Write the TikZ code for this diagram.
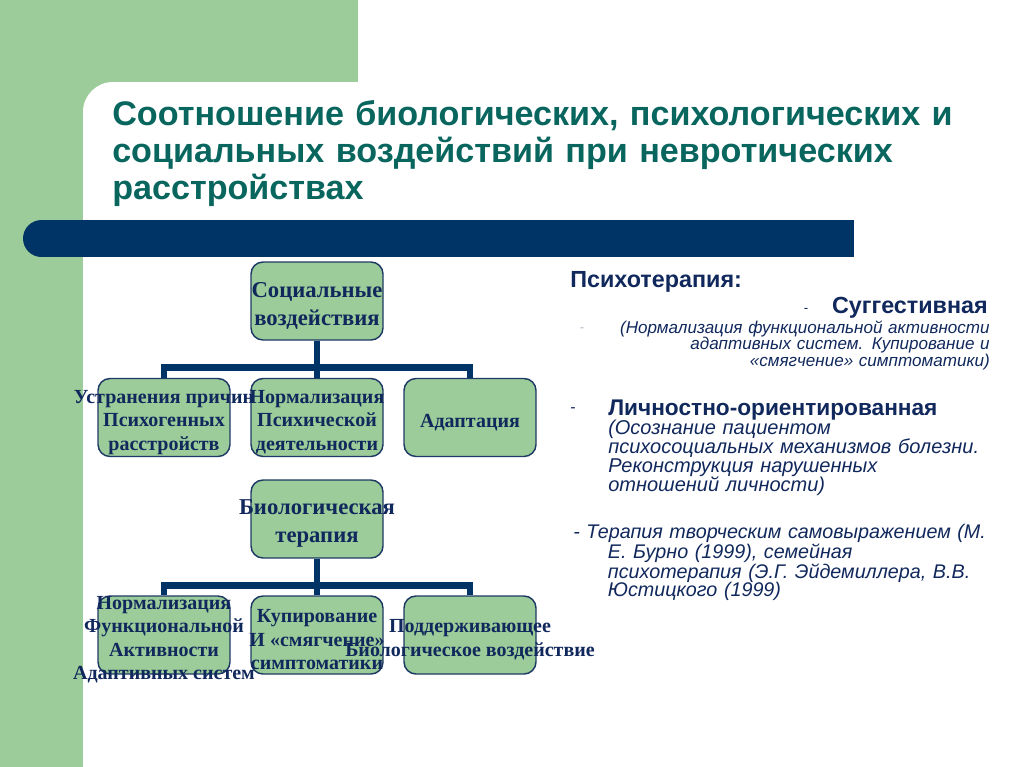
\documentclass[tikz,border=0pt]{standalone}
\usepackage{fontspec}
\setmainfont{Liberation Serif}
\newfontfamily\slidesans{Liberation Sans}
\usetikzlibrary{positioning}

\definecolor{bggreen}{RGB}{156,204,153}
\definecolor{barblue}{RGB}{0,51,102}
\definecolor{titleteal}{RGB}{8,102,94}
\definecolor{inknavy}{RGB}{16,40,92}
\definecolor{boxline}{RGB}{30,58,100}

\begin{document}
\begin{tikzpicture}[x=0.75pt, y=-0.75pt,
			box/.style={draw=boxline, line width=1.1pt, fill=bggreen, rounded corners=9pt, minimum width=99pt, minimum height=58.5pt, inner sep=0pt},
			boxtext/.style={text=inknavy, font=\bfseries\fontsize{15}{17.6}\selectfont, align=center, inner sep=0pt, yshift=-3.5pt},
			headtext/.style={boxtext, font=\bfseries\fontsize{17}{21}\selectfont},
			link/.style={draw=barblue, line width=5pt},
			side/.style={text=inknavy, inner sep=0pt}]
			\useasboundingbox (0,0) rectangle (1024,767);
			% slide background
			\fill[bggreen] (0,0) rectangle (358,82);
			\fill[bggreen] (0,0) rectangle (83,767);
			\fill[bggreen] (83,82) rectangle (113,112);
			\fill[white] (113,112) circle[radius=30];
			\fill[barblue] (41.5,238.5) circle[radius=18.5];
			\fill[barblue] (41.5,220) rectangle (854,257);
			\node[anchor=base west, inner sep=0pt, text width=680pt, align=left, text=titleteal, font=\slidesans\bfseries\fontsize{25.6}{27.75}\selectfont] (title) at (112,125)
				{Соотношение биологических, психологических и\\социальных воздействий при невротических\\расстройствах};

			% social branch
			\node[box] (soc) at (317,301) {};
			\node[box] (ustr) at (164,417.5) {};
			\node[box] (norm) at (317,417.5) {};
			\node[box] (adapt) at (470,417.5) {};
			\draw[link] (soc.south) -- ++(0,27) -| (ustr.north);
			\draw[link] (soc.south) -- (norm.north);
			\draw[link] (soc.south) -- ++(0,27) -| (adapt.north);
			\node[headtext] (soct) at (soc) {Социальные\\воздействия};
			\node[boxtext] (ustrt) at (ustr) {Устранения причин\\Психогенных\\расстройств};
			\node[boxtext] (normt) at (norm) {Нормализация\\Психической\\деятельности};
			\node[boxtext] (adaptt) at (adapt) {Адаптация};

			% biological branch
			\node[box] (bio) at (317,519) {};
			\node[box] (funk) at (164,635) {};
			\node[box] (kup) at (317,635) {};
			\node[box] (podd) at (470,635) {};
			\draw[link] (bio.south) -- ++(0,27) -| (funk.north);
			\draw[link] (bio.south) -- (kup.north);
			\draw[link] (bio.south) -- ++(0,27) -| (podd.north);
			\node[headtext] (biot) at (bio) {Биологическая\\терапия};
			\node[boxtext] (funkt) at (funk) {Нормализация\\Функциональной\\Активности\\Адаптивных систем};
			\node[boxtext] (kupt) at (kup) {Купирование\\И «смягчение»\\симптоматики};
			\node[boxtext] (poddt) at (podd) {Поддерживающее\\Биологическое воздействие};

			% psychotherapy text
			\node[side, anchor=base west, font=\slidesans\bfseries\fontsize{17.5}{21}\selectfont] (psy) at (570,287) {Психотерапия:};
			\node[side, anchor=base east, font=\slidesans\bfseries\fontsize{17.5}{21}\selectfont] (sugg) at (988,313) {Суггестивная};
			\node[side, font=\slidesans\fontsize{10}{12}\selectfont] (sdash) at (806,310) {-};
			\node[side, text=inknavy!40, font=\slidesans\fontsize{9}{11}\selectfont] (gdash) at (582,330) {-};
			\node[side, anchor=base east, text width=320pt, align=right, font=\slidesans\itshape\fontsize{12.8}{12.4}\selectfont] (suggt) at (990,333)
				{(Нормализация функциональной активности\\адаптивных систем. Купирование и\\«смягчение» симптоматики)};
			\node[side, font=\slidesans\fontsize{12}{14}\selectfont] (ldash) at (573,410) {-};
			\node[side, anchor=base west, font=\slidesans\bfseries\fontsize{17}{18}\selectfont] (lich) at (608,415) {Личностно-ориентированная};
			\node[side, anchor=base west, text width=300pt, align=left, font=\slidesans\itshape\fontsize{15}{14.25}\selectfont] (licht) at (608,434)
				{(Осознание пациентом\\психосоциальных механизмов болезни.\\Реконструкция нарушенных\\отношений личности)};
			\node[side, anchor=base west, text width=330pt, align=left, font=\slidesans\itshape\fontsize{14.8}{13.9}\selectfont] (tvor) at (573,538)
				{- Терапия творческим самовыражением (М.\\\hspace*{26pt}Е. Бурно (1999), семейная\\\hspace*{26pt}психотерапия (Э.Г. Эйдемиллера, В.В.\\\hspace*{26pt}Юстицкого (1999)};
		\end{tikzpicture}
\end{document}
